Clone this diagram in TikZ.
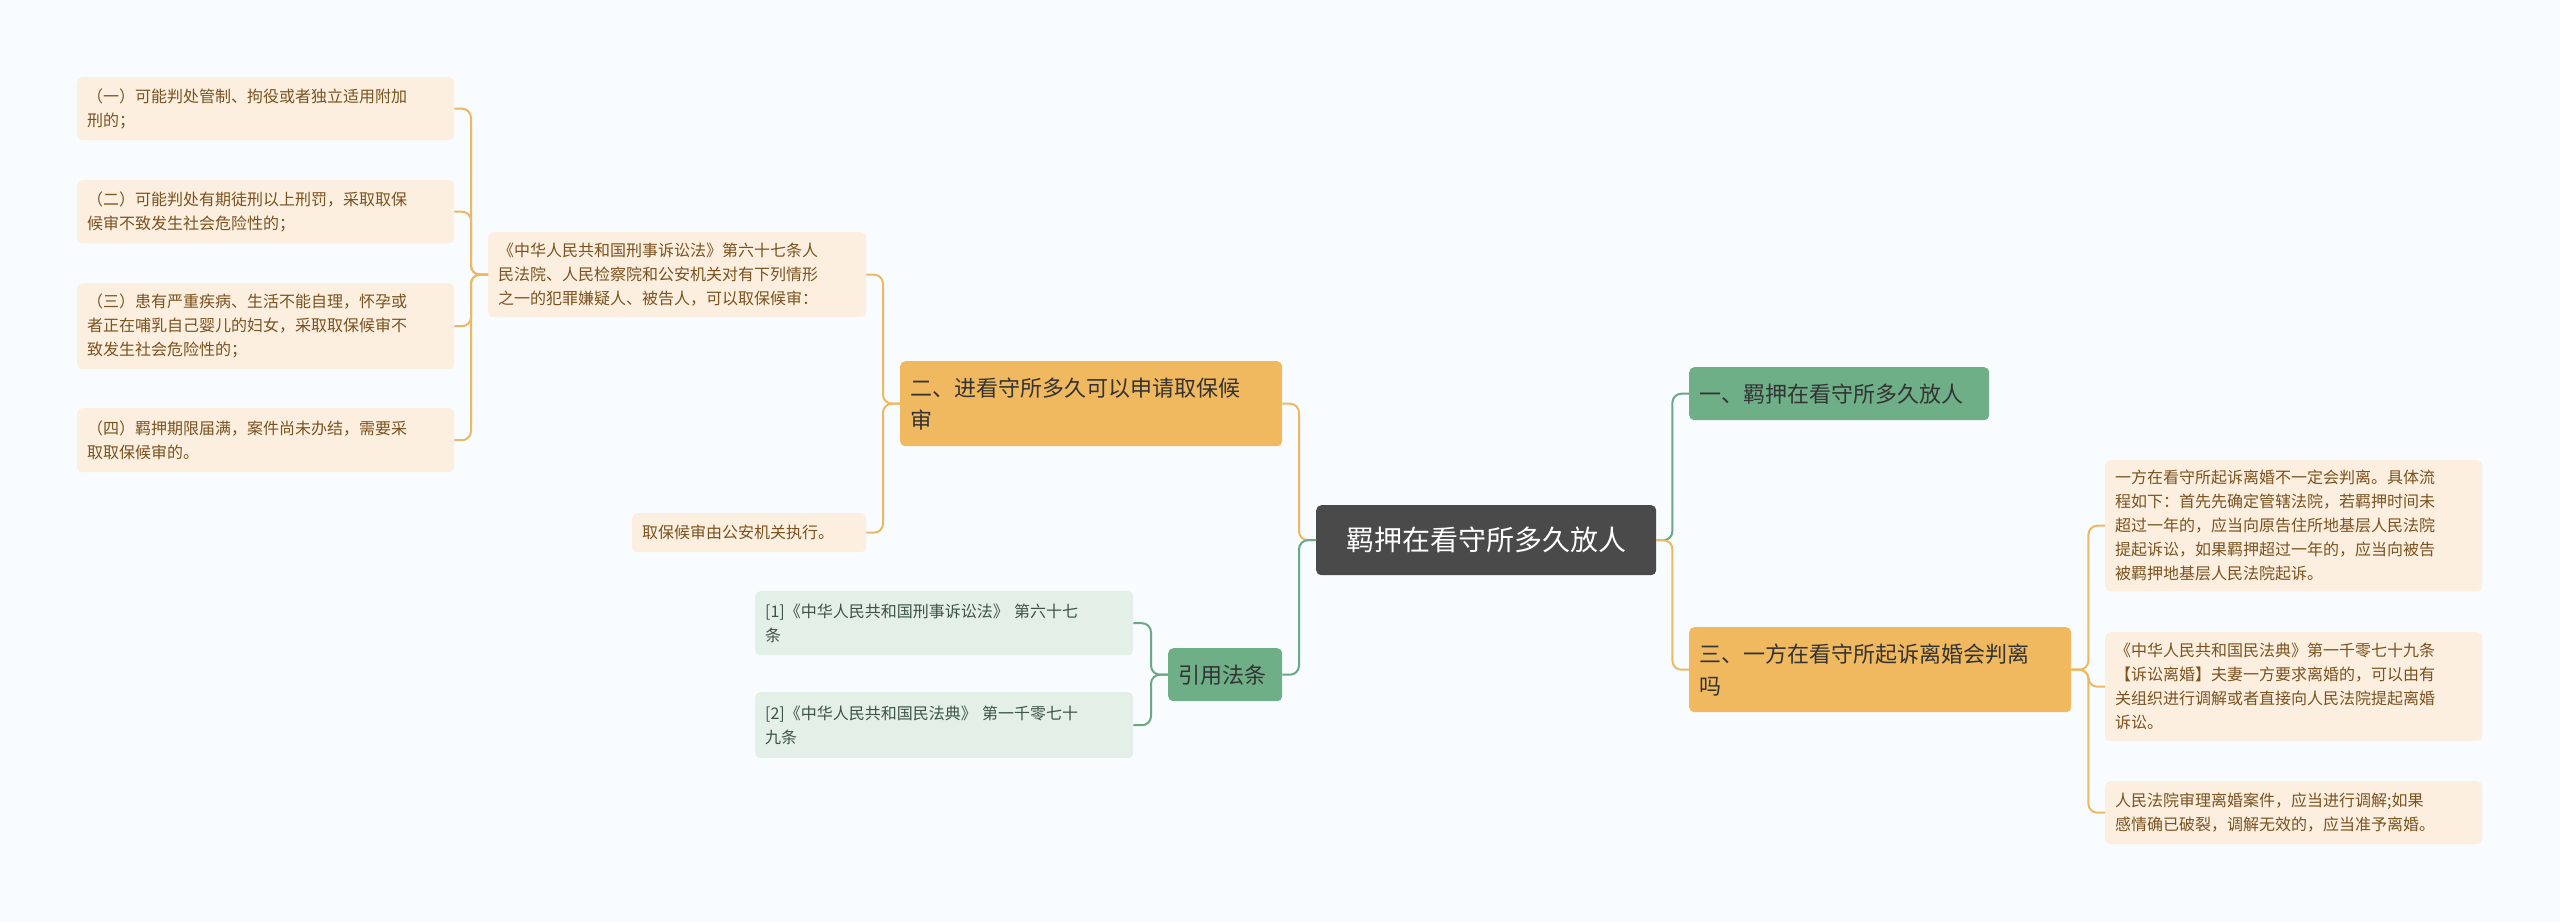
\documentclass[tikz,border=0pt]{standalone}
\usepackage{fontspec}
\setmainfont{Noto Sans CJK SC}
\begin{document}
\begin{tikzpicture}[x=1pt,y=-1pt,
  box/.style={anchor=north west,rounded corners=5pt,inner xsep=10pt,inner ysep=4pt,align=left},
  leaf/.style={box,fill=leafF,text=leafT,font=\fontsize{16}{24}\selectfont},
  refb/.style={box,fill=refF,text=refT,font=\fontsize{16}{24}\selectfont},
  obr/.style={box,fill=orF,text=brT,font=\fontsize{22}{32}\selectfont},
  gbr/.style={box,fill=grF,text=brT,font=\fontsize{22}{32}\selectfont},
  ol/.style={draw=orL,line width=2pt,rounded corners=9pt},
  gl/.style={draw=grL,line width=2pt,rounded corners=9pt}]
\definecolor{leafF}{HTML}{FCEFDF}
\definecolor{leafT}{HTML}{7A5220}
\definecolor{refF}{HTML}{E3EFE7}
\definecolor{refT}{HTML}{3D5446}
\definecolor{orF}{HTML}{F0B960}
\definecolor{grF}{HTML}{6FAF88}
\definecolor{brT}{HTML}{333333}
\definecolor{orL}{HTML}{EDB866}
\definecolor{grL}{HTML}{6BA884}
\fill[color={rgb,255:red,248;green,252;blue,254}] (0,0) rectangle (2560,922);
\useasboundingbox (0,0) rectangle (2560,922);
% root
\node[box,fill={rgb,255:red,74;green,74;blue,74},text=white,font=\fontsize{28}{34}\selectfont,minimum width=340,minimum height=70,inner xsep=14pt,anchor=north west] (root) at (1316,505) {羁押在看守所多久放人};
% right
\node[gbr,text width=280,minimum height=53] (b1) at (1689,367) {一、羁押在看守所多久放人};
\node[obr,text width=362,minimum height=85] (b3) at (1689,627) {三、一方在看守所起诉离婚会判离\\吗};
\node[leaf,text width=357,minimum height=131] (r1) at (2105,460) {一方在看守所起诉离婚不一定会判离。具体流\\程如下：首先先确定管辖法院，若羁押时间未\\超过一年的，应当向原告住所地基层人民法院\\提起诉讼，如果羁押超过一年的，应当向被告\\被羁押地基层人民法院起诉。};
\node[leaf,text width=357,minimum height=109] (r2) at (2105,632) {《中华人民共和国民法典》第一千零七十九条\\【诉讼离婚】夫妻一方要求离婚的，可以由有\\关组织进行调解或者直接向人民法院提起离婚\\诉讼。};
\node[leaf,text width=357,minimum height=63] (r3) at (2105,781) {人民法院审理离婚案件，应当进行调解;如果\\感情确已破裂，调解无效的，应当准予离婚。};
% left
\node[obr,text width=362,minimum height=85] (b2) at (900,361) {二、进看守所多久可以申请取保候\\审};
\node[gbr,text width=94,minimum height=53] (b4) at (1168,648) {引用法条};
\node[refb,text width=358,minimum height=64] (f1) at (755,591) {[1]《中华人民共和国刑事诉讼法》 第六十七\\条};
\node[refb,text width=358,minimum height=66] (f2) at (755,692) {[2]《中华人民共和国民法典》 第一千零七十\\九条};
\node[leaf,text width=358,minimum height=85] (m1) at (488,232) {《中华人民共和国刑事诉讼法》第六十七条人\\民法院、人民检察院和公安机关对有下列情形\\之一的犯罪嫌疑人、被告人，可以取保候审：};
\node[leaf,text width=214,minimum height=39] (m2) at (632,513) {取保候审由公安机关执行。};
\node[leaf,text width=357,minimum height=63] (l1) at (77,77) {（一）可能判处管制、拘役或者独立适用附加\\刑的；};
\node[leaf,text width=357,minimum height=63] (l2) at (77,180) {（二）可能判处有期徒刑以上刑罚，采取取保\\候审不致发生社会危险性的；};
\node[leaf,text width=357,minimum height=86] (l3) at (77,283) {（三）患有严重疾病、生活不能自理，怀孕或\\者正在哺乳自己婴儿的妇女，采取取保候审不\\致发生社会危险性的；};
\node[leaf,text width=357,minimum height=64] (l4) at (77,408) {（四）羁押期限届满，案件尚未办结，需要采\\取取保候审的。};
% connectors
\draw[gl] (root.east) -- ([xshift=16]root.east) |- (b1.west);
\draw[ol] (root.east) -- ([xshift=16]root.east) |- (b3.west);
\draw[ol] (root.west) -- ([xshift=-17]root.west) |- (b2.east);
\draw[gl] (root.west) -- ([xshift=-17]root.west) |- (b4.east);
\foreach \c in {r1,r2,r3} \draw[ol] (b3.east) -- ([xshift=17]b3.east) |- (\c.west);
\foreach \c in {m1,m2} \draw[ol] (b2.west) -- ([xshift=-17]b2.west) |- (\c.east);
\foreach \c in {l1,l2,l3,l4} \draw[ol] (m1.west) -- ([xshift=-17]m1.west) |- (\c.east);
\foreach \c in {f1,f2} \draw[gl] (b4.west) -- ([xshift=-17]b4.west) |- (\c.east);
\end{tikzpicture}
\end{document}
